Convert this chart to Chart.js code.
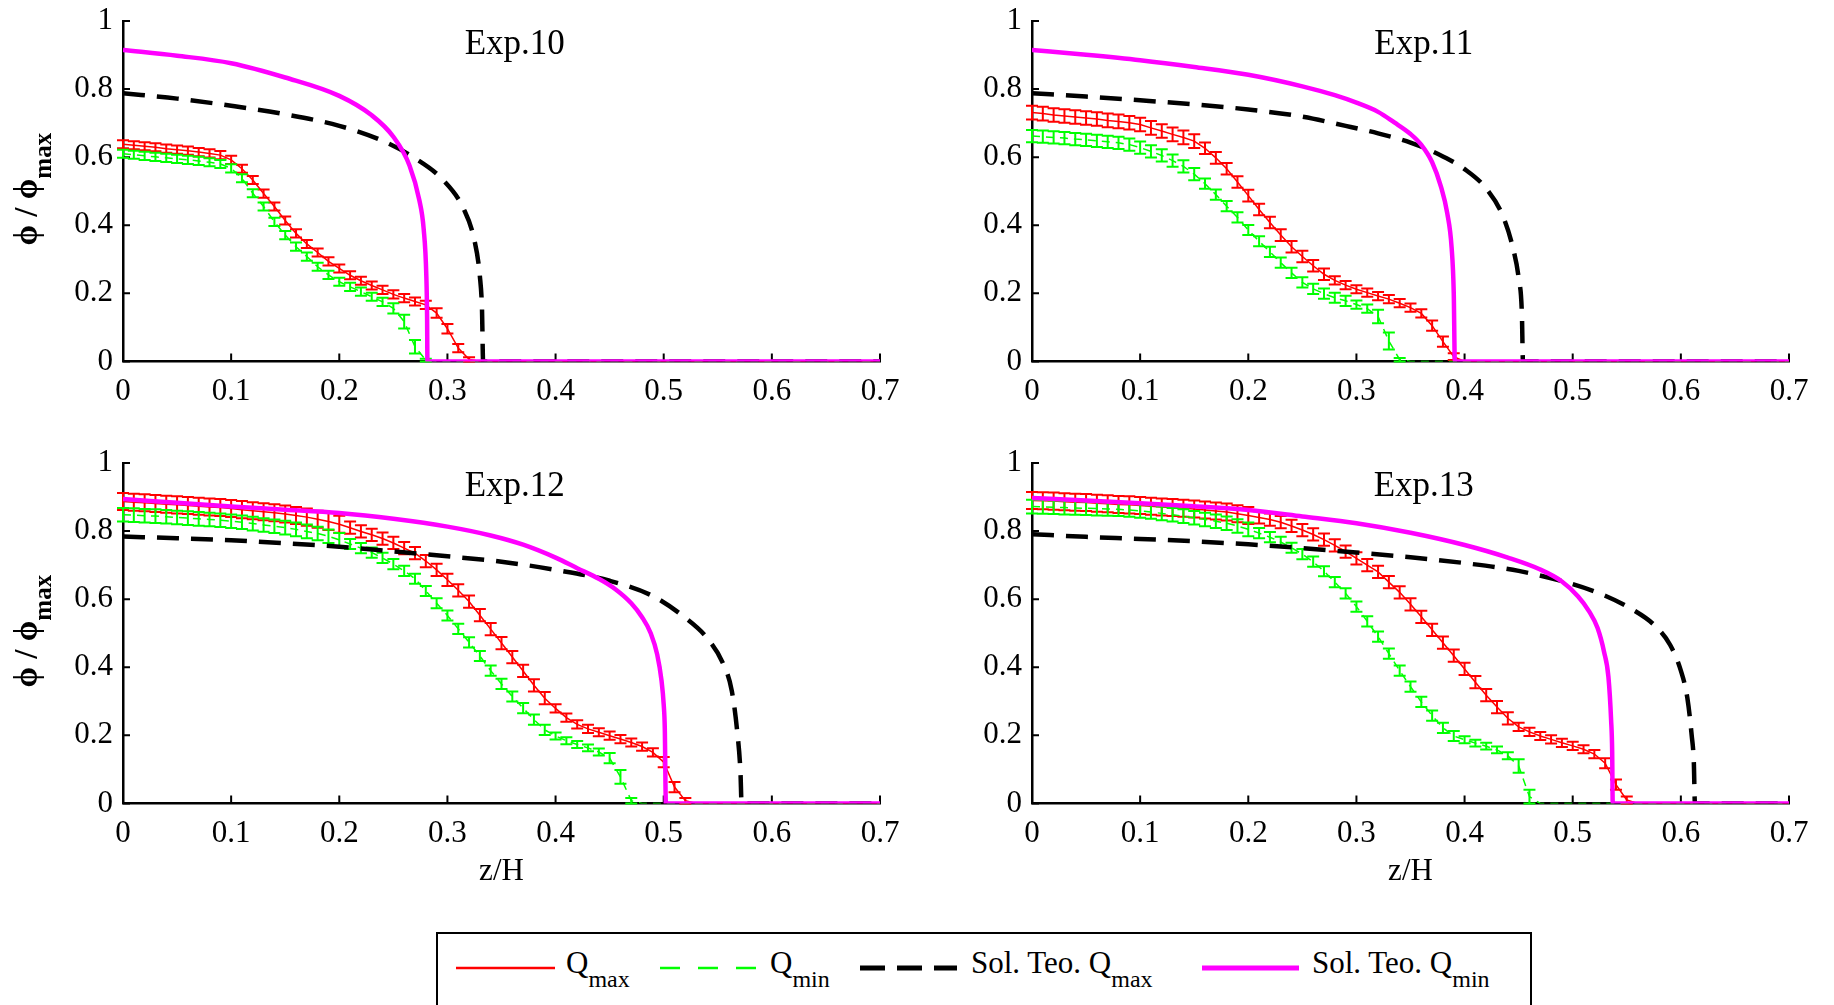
<!DOCTYPE html>
<html>
<head>
<meta charset="utf-8">
<title>Perfiles de concentración</title>
<script src="https://cdn.jsdelivr.net/npm/chart.js@4.4.1/dist/chart.umd.min.js"></script>
<style>
  html, body { margin: 0; padding: 0; background: #fff; }
  #page { position: relative; width: 1834px; height: 1005px; overflow: hidden; background: #fff; }
  #page canvas { position: absolute; }
  #legendBox { position: absolute; left: 0; top: 0; }
</style>
</head>
<body>
<div id="page">
  <canvas id="c10" width="917" height="460" style="left:0;top:0"></canvas>
  <canvas id="c11" width="917" height="460" style="left:917px;top:0"></canvas>
  <canvas id="c12" width="917" height="460" style="left:0;top:442px"></canvas>
  <canvas id="c13" width="917" height="460" style="left:917px;top:442px"></canvas>
  <svg id="legendBox" width="1834" height="1005" font-family="'Liberation Serif', 'Times New Roman', serif">
    <rect x="437" y="933" width="1094" height="100" fill="#fff" stroke="#000" stroke-width="2"/>
    <line x1="456" y1="968" x2="555" y2="968" stroke="#ff0000" stroke-width="2.5"/>
    <text x="566" y="973" font-size="31">Q<tspan dy="14" font-size="24">max</tspan></text>
    <line x1="660" y1="968" x2="759" y2="968" stroke="#00ff00" stroke-width="2.5" stroke-dasharray="20 18"/>
    <text x="770" y="973" font-size="31">Q<tspan dy="14" font-size="24">min</tspan></text>
    <line x1="860" y1="968" x2="957" y2="968" stroke="#000" stroke-width="5" stroke-dasharray="25 12"/>
    <text x="971" y="973" font-size="31">Sol. Teo. Q<tspan dy="14" font-size="24">max</tspan></text>
    <line x1="1202" y1="968" x2="1299" y2="968" stroke="#ff00ff" stroke-width="5"/>
    <text x="1312" y="973" font-size="31">Sol. Teo. Q<tspan dy="14" font-size="24">min</tspan></text>
  </svg>
</div>
<script>
// Positions z/H at which the measured profiles are sampled
const zGrid = [
  0,0.01,0.02,0.03,0.04,0.05,0.06,0.07,0.08,0.09,
  0.1,0.11,0.12,0.13,0.14,0.15,0.16,0.17,0.18,0.19,
  0.2,0.21,0.22,0.23,0.24,0.25,0.26,0.27,0.28,0.29,
  0.3,0.31,0.32,0.33,0.34,0.35,0.36,0.37,0.38,0.39,
  0.4,0.41,0.42,0.43,0.44,0.45,0.46,0.47,0.48,0.49,
  0.5,0.51,0.52,0.53,0.54,0.55,0.56,0.57,0.58,0.59,
  0.6,0.61,0.62,0.63,0.64,0.65,0.66,0.67,0.68,0.69,
  0.7
];

const xTicks = [0, 0.1, 0.2, 0.3, 0.4, 0.5, 0.6, 0.7];
const yTicks = [0, 0.2, 0.4, 0.6, 0.8, 1];
const panelTitles = ['Exp.10', 'Exp.11', 'Exp.12', 'Exp.13'];

// ---- Exp.10 ----
const qMax10 = [
  0.638,0.635,0.632,0.629,0.625,0.622,0.619,0.615,0.611,0.606,
  0.592,0.566,0.533,0.493,0.455,0.414,0.376,0.345,0.320,0.294,
  0.273,0.253,0.237,0.223,0.210,0.197,0.186,0.176,0.166,0.142,
  0.096,0.039,0.006,0,0,0,0,0,0,0,
  0,0,0,0,0,0,0,0,0,0,
  0,0,0,0,0,0,0,0,0,0,
  0,0,0,0,0,0,0,0,0,0,
  0
];
const qMax10Err = [
  0.012,0.012,0.012,0.012,0.012,0.012,0.012,0.012,0.012,0.012,
  0.012,0.012,0.012,0.012,0.012,0.012,0.012,0.012,0.012,0.012,
  0.012,0.012,0.012,0.012,0.012,0.012,0.012,0.012,0.012,0.014,
  0.014,0.012,0.006
];
const qMin10 = [
  0.610,0.607,0.604,0.601,0.598,0.595,0.592,0.589,0.585,0.580,
  0.567,0.538,0.494,0.455,0.410,0.371,0.337,0.308,0.278,0.254,
  0.234,0.219,0.205,0.190,0.175,0.156,0.117,0.043,0.004,0,
  0,0,0,0,0,0,0,0,0,0,
  0,0,0,0,0,0,0,0,0,0,
  0,0,0,0,0,0,0,0,0,0,
  0,0,0,0,0,0,0,0,0,0,
  0
];
const qMin10Err = [
  0.012,0.012,0.012,0.012,0.012,0.012,0.012,0.012,0.012,0.012,
  0.012,0.012,0.012,0.012,0.012,0.012,0.012,0.012,0.012,0.012,
  0.012,0.012,0.012,0.012,0.012,0.015,0.020,0.020,0.004
];
const teoMaxZ10 = [0,0.05,0.10,0.15,0.20,0.24,0.27,0.295,0.315,0.325,0.330,0.332,0.333,0.7];
const teoMax10  = [0.788,0.772,0.751,0.726,0.692,0.648,0.597,0.536,0.448,0.355,0.250,0.150,0,0];
const teoMinZ10 = [0,0.05,0.10,0.15,0.20,0.23,0.25,0.265,0.274,0.278,0.2805,0.2812,0.2815,0.7];
const teoMin10  = [0.915,0.898,0.876,0.834,0.780,0.723,0.660,0.575,0.474,0.390,0.250,0.130,0,0];

// ---- Exp.11 ----
const qMax11 = [
  0.731,0.728,0.724,0.721,0.718,0.715,0.712,0.708,0.705,0.701,
  0.696,0.686,0.677,0.667,0.658,0.647,0.626,0.598,0.566,0.527,
  0.487,0.446,0.408,0.371,0.337,0.308,0.281,0.256,0.238,0.224,
  0.212,0.202,0.192,0.183,0.171,0.158,0.141,0.105,0.058,0.014,
  0,0,0,0,0,0,0,0,0,0,
  0,0,0,0,0,0,0,0,0,0,
  0,0,0,0,0,0,0,0,0,0,
  0
];
const qMax11Err = [
  0.020,0.020,0.020,0.020,0.020,0.020,0.020,0.020,0.020,0.020,
  0.020,0.020,0.020,0.020,0.020,0.020,0.017,0.017,0.017,0.017,
  0.017,0.017,0.017,0.017,0.017,0.017,0.017,0.017,0.012,0.012,
  0.012,0.012,0.012,0.012,0.012,0.012,0.012,0.015,0.015,0.010
];
const qMin11 = [
  0.662,0.660,0.658,0.656,0.653,0.651,0.648,0.645,0.642,0.637,
  0.628,0.617,0.605,0.590,0.573,0.550,0.522,0.490,0.456,0.423,
  0.386,0.353,0.322,0.290,0.260,0.232,0.213,0.199,0.187,0.178,
  0.167,0.155,0.132,0.060,0.005,0,0,0,0,0,
  0,0,0,0,0,0,0,0,0,0,
  0,0,0,0,0,0,0,0,0,0,
  0,0,0,0,0,0,0,0,0,0,
  0
];
const qMin11Err = [
  0.018,0.018,0.018,0.018,0.018,0.018,0.018,0.018,0.018,0.018,
  0.018,0.018,0.018,0.018,0.018,0.018,0.015,0.015,0.015,0.015,
  0.015,0.015,0.015,0.015,0.015,0.015,0.015,0.015,0.015,0.015,
  0.012,0.012,0.020,0.025,0.005
];
const teoMaxZ11 = [0,0.05,0.10,0.15,0.20,0.25,0.29,0.32,0.35,0.38,0.40,0.42,0.435,0.445,0.45,0.453,0.454,0.7];
const teoMax11  = [0.788,0.778,0.767,0.755,0.740,0.719,0.692,0.670,0.643,0.602,0.565,0.508,0.430,0.330,0.245,0.140,0,0];
const teoMinZ11 = [0,0.05,0.10,0.15,0.20,0.25,0.28,0.30,0.32,0.335,0.35,0.36,0.37,0.378,0.384,0.388,0.390,0.391,0.7];
const teoMin11  = [0.915,0.901,0.885,0.865,0.842,0.808,0.782,0.760,0.733,0.702,0.668,0.636,0.585,0.515,0.435,0.335,0.200,0,0];

// ---- Exp.12 ----
const qMax12 = [
  0.887,0.885,0.883,0.881,0.879,0.877,0.875,0.873,0.871,0.869,
  0.866,0.863,0.860,0.857,0.854,0.850,0.846,0.841,0.835,0.828,
  0.820,0.810,0.799,0.789,0.778,0.765,0.750,0.735,0.712,0.686,
  0.657,0.626,0.593,0.553,0.512,0.471,0.430,0.389,0.347,0.309,
  0.279,0.252,0.232,0.219,0.209,0.199,0.189,0.179,0.167,0.150,
  0.121,0.048,0.008,0,0,0,0,0,0,0,
  0,0,0,0,0,0,0,0,0,0,
  0
];
const qMax12Err = [
  0.025,0.025,0.025,0.025,0.025,0.025,0.025,0.025,0.025,0.025,
  0.025,0.025,0.025,0.025,0.025,0.025,0.025,0.025,0.025,0.025,
  0.025,0.018,0.018,0.018,0.018,0.018,0.018,0.018,0.018,0.018,
  0.018,0.018,0.018,0.018,0.018,0.018,0.018,0.018,0.018,0.018,
  0.012,0.012,0.012,0.012,0.012,0.012,0.012,0.012,0.012,0.012,
  0.015,0.015,0.008
];
const qMin12 = [
  0.848,0.847,0.845,0.844,0.842,0.840,0.838,0.836,0.834,0.832,
  0.829,0.826,0.822,0.818,0.814,0.810,0.805,0.799,0.793,0.785,
  0.774,0.762,0.750,0.737,0.721,0.703,0.683,0.660,0.624,0.588,
  0.552,0.513,0.473,0.433,0.390,0.351,0.314,0.280,0.246,0.216,
  0.198,0.184,0.173,0.163,0.151,0.133,0.078,0.008,0,0,
  0,0,0,0,0,0,0,0,0,0,
  0,0,0,0,0,0,0,0,0,0,
  0
];
const qMin12Err = [
  0.020,0.020,0.020,0.020,0.020,0.020,0.020,0.020,0.020,0.020,
  0.020,0.020,0.020,0.020,0.020,0.020,0.020,0.020,0.020,0.020,
  0.020,0.015,0.015,0.015,0.015,0.015,0.015,0.015,0.015,0.015,
  0.015,0.015,0.015,0.015,0.015,0.015,0.015,0.015,0.015,0.015,
  0.010,0.010,0.010,0.010,0.010,0.015,0.020,0.008
];
const teoMaxZ12 = [0,0.05,0.10,0.15,0.20,0.25,0.30,0.35,0.40,0.45,0.49,0.52,0.54,0.555,0.563,0.568,0.571,0.572,0.7];
const teoMax12  = [0.784,0.779,0.773,0.764,0.754,0.740,0.726,0.710,0.686,0.654,0.609,0.545,0.486,0.410,0.330,0.210,0.090,0,0];
const teoMinZ12 = [0,0.05,0.10,0.15,0.20,0.25,0.30,0.34,0.37,0.40,0.42,0.44,0.455,0.47,0.48,0.488,0.494,0.498,0.500,0.501,0.502,0.7];
const teoMin12  = [0.894,0.883,0.872,0.863,0.853,0.836,0.813,0.787,0.760,0.722,0.691,0.660,0.630,0.588,0.547,0.500,0.437,0.360,0.290,0.220,0,0];

// ---- Exp.13 ----
const qMax13 = [
  0.890,0.889,0.888,0.886,0.885,0.884,0.882,0.880,0.878,0.877,
  0.875,0.873,0.871,0.869,0.867,0.865,0.862,0.859,0.856,0.851,
  0.846,0.840,0.834,0.826,0.815,0.803,0.790,0.775,0.758,0.740,
  0.720,0.700,0.680,0.650,0.620,0.585,0.548,0.510,0.472,0.434,
  0.395,0.356,0.318,0.283,0.250,0.225,0.210,0.198,0.188,0.178,
  0.169,0.159,0.145,0.118,0.055,0.010,0,0,0,0,
  0,0,0,0,0,0,0,0,0,0,
  0
];
const qMax13Err = [
  0.025,0.025,0.025,0.025,0.025,0.025,0.025,0.025,0.025,0.025,
  0.025,0.025,0.025,0.025,0.025,0.025,0.025,0.025,0.025,0.025,
  0.025,0.018,0.018,0.018,0.018,0.018,0.018,0.018,0.018,0.018,
  0.018,0.018,0.018,0.018,0.018,0.018,0.018,0.018,0.018,0.018,
  0.018,0.018,0.018,0.018,0.018,0.012,0.012,0.012,0.012,0.012,
  0.012,0.012,0.012,0.015,0.015,0.010
];
const qMin13 = [
  0.872,0.871,0.870,0.869,0.868,0.867,0.866,0.865,0.864,0.862,
  0.859,0.856,0.852,0.848,0.844,0.839,0.834,0.829,0.823,0.815,
  0.805,0.794,0.782,0.768,0.751,0.732,0.710,0.682,0.650,0.617,
  0.578,0.535,0.490,0.440,0.390,0.343,0.298,0.258,0.222,0.198,
  0.187,0.177,0.168,0.157,0.140,0.110,0.020,0,0,0,
  0,0,0,0,0,0,0,0,0,0,
  0,0,0,0,0,0,0,0,0,0,
  0
];
const qMin13Err = [
  0.020,0.020,0.020,0.020,0.020,0.020,0.020,0.020,0.020,0.020,
  0.020,0.020,0.020,0.020,0.020,0.020,0.020,0.020,0.020,0.020,
  0.020,0.015,0.015,0.015,0.015,0.015,0.015,0.015,0.015,0.015,
  0.015,0.015,0.015,0.015,0.015,0.015,0.015,0.015,0.015,0.015,
  0.010,0.010,0.010,0.010,0.010,0.020,0.020
];
const teoMaxZ13 = [0,0.05,0.10,0.15,0.20,0.25,0.30,0.35,0.40,0.45,0.50,0.53,0.555,0.575,0.59,0.60,0.606,0.610,0.612,0.613,0.7];
const teoMax13  = [0.791,0.783,0.777,0.770,0.761,0.750,0.737,0.723,0.706,0.683,0.644,0.610,0.570,0.525,0.466,0.390,0.310,0.200,0.120,0,0];
const teoMinZ13 = [0,0.05,0.10,0.15,0.20,0.25,0.30,0.35,0.40,0.44,0.47,0.49,0.505,0.515,0.523,0.529,0.533,0.5355,0.5365,0.537,0.7];
const teoMin13  = [0.897,0.890,0.882,0.873,0.862,0.843,0.823,0.795,0.759,0.722,0.687,0.652,0.608,0.565,0.515,0.445,0.372,0.245,0.150,0,0];

// ---------------------------------------------------------------
const SERIF = '"Liberation Serif", "Times New Roman", serif';
const RED = '#ff0000', GREEN = '#00ff00', MAGENTA = '#ff00ff', BLACK = '#000000';

const toPoints = (zs, vs) => vs.map((v, i) => ({ x: zs[i], y: v }));

function measuredSet(label, vals, errs, color, dash, order) {
  return {
    label, data: toPoints(zGrid, vals), errors: errs,
    borderColor: color, borderWidth: 1.5, borderDash: dash,
    pointRadius: 0, fill: false, order
  };
}
function theorySet(label, zs, vals, color, dash, order) {
  return {
    label, data: toPoints(zs, vals),
    borderColor: color, borderWidth: 4.5, borderDash: dash,
    cubicInterpolationMode: 'monotone',
    pointRadius: 0, fill: false, order
  };
}

// Vertical error bars with caps, drawn right after their own line
const errorBars = {
  id: 'errorBars',
  afterDatasetDraw(chart, args) {
    const ds = chart.data.datasets[args.index];
    if (!ds.errors) return;
    const { ctx, scales: { x, y } } = chart;
    const cap = 6;
    ctx.save();
    ctx.setLineDash([]);
    ctx.strokeStyle = ds.borderColor;
    ctx.lineWidth = 2;
    ctx.beginPath();
    ds.data.forEach((p, i) => {
      const e = ds.errors[i];
      if (!e) return;
      const px = x.getPixelForValue(p.x);
      const yt = y.getPixelForValue(p.y + e);
      const yb = y.getPixelForValue(p.y - e);
      ctx.moveTo(px, yt); ctx.lineTo(px, yb);
      ctx.moveTo(px - cap, yt); ctx.lineTo(px + cap, yt);
      ctx.moveTo(px - cap, yb); ctx.lineTo(px + cap, yb);
    });
    ctx.stroke();
    ctx.restore();
  }
};

// Inward tick marks, panel caption and the rotated y-axis title
const panelDecor = {
  id: 'panelDecor',
  beforeDatasetsDraw(chart) {
    const { ctx, chartArea: a, scales: { x, y } } = chart;
    ctx.save();
    ctx.strokeStyle = '#000';
    ctx.lineWidth = 2;
    ctx.beginPath();
    xTicks.forEach(v => {
      const px = x.getPixelForValue(v);
      ctx.moveTo(px, a.bottom); ctx.lineTo(px, a.bottom - 8);
    });
    yTicks.forEach(v => {
      const py = y.getPixelForValue(v);
      ctx.moveTo(a.left, py); ctx.lineTo(a.left + 7, py);
    });
    ctx.stroke();
    ctx.restore();
  },
  afterDraw(chart, args, opts) {
    const { ctx, chartArea: a } = chart;
    ctx.save();
    ctx.fillStyle = '#000';
    ctx.font = '35px ' + SERIF;
    ctx.textAlign = 'center';
    ctx.textBaseline = 'alphabetic';
    ctx.fillText(opts.title, a.left + 0.5175 * (a.right - a.left), a.top + 33);
    ctx.restore();

    if (opts.yTitle) {
      const cy = (a.top + a.bottom) / 2 - 2;
      const mainFont = 'bold 33px ' + SERIF + ', "DejaVu Serif"';
      const subFont = 'bold 25px ' + SERIF;
      ctx.save();
      ctx.translate(37, cy);
      ctx.rotate(-Math.PI / 2);
      ctx.fillStyle = '#000';
      ctx.textAlign = 'left';
      ctx.textBaseline = 'alphabetic';
      ctx.font = mainFont;
      const main = '\u03D5 / \u03D5';
      const wm = ctx.measureText(main).width;
      ctx.font = subFont;
      const ws = ctx.measureText('max').width;
      const x0 = -(wm + ws) / 2;
      ctx.font = mainFont;
      ctx.fillText(main, x0, 0);
      ctx.font = subFont;
      ctx.fillText('max', x0 + wm, 14);
      ctx.restore();
    }
  }
};

function makePanel(id, title, sets, yWidth, padRight, yTitle, xTitle) {
  const tickFont = { family: SERIF, size: 31 };
  return new Chart(document.getElementById(id), {
    type: 'line',
    data: { datasets: sets },
    options: {
      responsive: false,
      animation: false,
      events: [],
      layout: { padding: { left: 0, top: 21, right: padRight, bottom: 8.6 } },
      plugins: {
        legend: { display: false },
        tooltip: { enabled: false },
        panelDecor: { title, yTitle }
      },
      scales: {
        x: {
          type: 'linear', min: 0, max: 0.7,
          grid: { display: false, drawTicks: false },
          border: { display: true, color: '#000', width: 2.5 },
          ticks: {
            stepSize: 0.1, color: '#000', font: tickFont, padding: 12,
            maxRotation: 0, autoSkip: false,
            callback: v => String(Math.round(v * 10) / 10)
          },
          title: {
            display: xTitle, text: 'z/H', color: '#000',
            font: { family: SERIF, size: 31 }, padding: { top: 0, bottom: 3 }
          },
          afterFit: s => { s.height = 90; s.paddingLeft = 0; s.paddingRight = 0; }
        },
        y: {
          type: 'linear', min: 0, max: 1,
          grid: { display: false, drawTicks: false },
          border: { display: true, color: '#000', width: 2.5 },
          ticks: {
            stepSize: 0.2, color: '#000', font: tickFont, padding: 10,
            callback: v => String(Math.round(v * 10) / 10)
          },
          afterFit: s => { s.width = yWidth; s.paddingTop = 0; s.paddingBottom = 0; }
        }
      }
    },
    plugins: [errorBars, panelDecor]
  });
}

function panelSets(qMax, qMaxErr, qMin, qMinErr, tMaxZ, tMax, tMinZ, tMin) {
  return [
    theorySet('Sol. Teo. Qmin', tMinZ, tMin, MAGENTA, [], 1),
    theorySet('Sol. Teo. Qmax', tMaxZ, tMax, BLACK, [22, 12], 2),
    measuredSet('Qmin', qMin, qMinErr, GREEN, [8, 6], 3),
    measuredSet('Qmax', qMax, qMaxErr, RED, [], 4)
  ];
}

makePanel('c10', panelTitles[0],
  panelSets(qMax10, qMax10Err, qMin10, qMin10Err, teoMaxZ10, teoMax10, teoMinZ10, teoMin10),
  123, 37, true, false);
makePanel('c11', panelTitles[1],
  panelSets(qMax11, qMax11Err, qMin11, qMin11Err, teoMaxZ11, teoMax11, teoMinZ11, teoMin11),
  115, 45, false, false);
makePanel('c12', panelTitles[2],
  panelSets(qMax12, qMax12Err, qMin12, qMin12Err, teoMaxZ12, teoMax12, teoMinZ12, teoMin12),
  123, 37, true, true);
makePanel('c13', panelTitles[3],
  panelSets(qMax13, qMax13Err, qMin13, qMin13Err, teoMaxZ13, teoMax13, teoMinZ13, teoMin13),
  115, 45, false, true);
</script>
</body>
</html>
